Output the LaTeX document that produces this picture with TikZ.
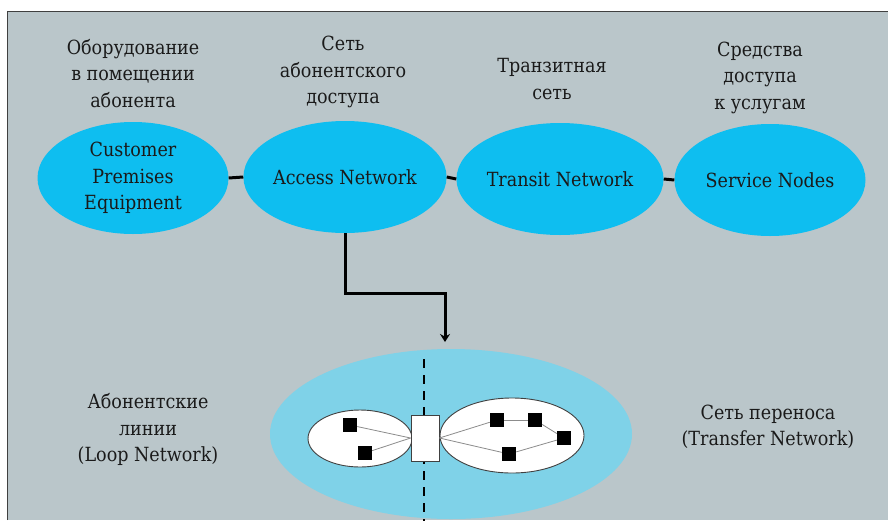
\documentclass[tikz,border=0pt]{standalone}
\usepackage{fontspec}
\setmainfont{DejaVu Serif Condensed}
\usetikzlibrary{shapes.geometric,arrows.meta}
\definecolor{panel}{RGB}{186,198,202}
\definecolor{netblue}{RGB}{14,190,240}
\definecolor{paleblue}{RGB}{127,210,232}
\definecolor{inkdark}{RGB}{26,26,26}
\tikzset{
  lbl/.style={font=\rmfamily\fontsize{19.5}{26.5}\selectfont, text=inkdark, align=center, inner sep=0pt},
  netnode/.style={ellipse, fill=netblue, minimum width=191pt, minimum height=112pt, inner sep=0pt,
    font=\rmfamily\fontsize{19.5}{26.5}\selectfont, text=inkdark, align=center},
  link/.style={line width=3pt, black},
  cloud/.style={ellipse, draw=black!75, line width=0.9pt, fill=white, inner sep=0pt},
  term/.style={rectangle, fill=black, minimum size=14pt, inner sep=0pt},
  wire/.style={draw=black!45, line width=0.8pt},
}
\begin{document}
\begin{tikzpicture}[x=1pt,y=-1pt]
\useasboundingbox (0,0) rectangle (888,520);
% frame
\fill[white] (0,0) rectangle (888,520);
\fill[panel] (7.5,11.5) rectangle (888,520);
\draw[black!75, line width=1.4pt] (7.5,520) -- (7.5,11.5) -- (888,11.5);

% upper row: headings
\node[lbl] (h1) at (133,73.5) {Оборудование\\в помещении\\абонента};
\node[lbl] (h2) at (343,72) {Сеть\\абонентского\\доступа};
\node[lbl] (h3) at (552,79) {Транзитная\\сеть};
\node[lbl] (h4) at (760,77.5) {Средства\\доступа\\к услугам};

% upper row: networks
\node[netnode] (cpe) at (133,178) {Customer\\Premises\\Equipment};
\node[netnode] (access) at (345,177) {Access Network};
\node[netnode] (transit) at (560,179) {Transit Network};
\node[netnode] (service) at (770,180) {Service Nodes};

\draw[link] (cpe.east) -- (access.west);
\draw[link] (access.east) -- (transit.west);
\draw[link] (transit.east) -- (service.west);

% lower part: access network detail
\node[ellipse, fill=paleblue, minimum width=362pt, minimum height=170pt, inner sep=0pt] (transfer) at (451,434) {};

\coordinate (elbow) at (445,293);
\coordinate (drop) at (445,342);
\draw[link, -{Stealth[length=8pt,width=10pt]}] (access.south) |- (elbow) -- (drop);

\coordinate (cuttop) at (424,359);
\coordinate (cutbot) at (424,522);
\draw[black, line width=2pt, dash pattern=on 9pt off 7pt] (cuttop) -- (cutbot);

\node[cloud, minimum width=104pt, minimum height=57pt] (loop) at (360,438.5) {};
\node[cloud, minimum width=144pt, minimum height=75pt] (core) at (512,435.5) {};
\node[rectangle, draw=black!75, line width=0.9pt, fill=white, minimum width=28pt, minimum height=46pt, inner sep=0pt] (hub) at (425,438) {};

\node[term] (l1) at (350,425) {};
\node[term] (l2) at (365,453) {};
\node[term] (r1) at (497,420) {};
\node[term] (r2) at (535,420) {};
\node[term] (r3) at (564,438) {};
\node[term] (r4) at (509,454) {};

\draw[wire] (l1) -- (hub.west);
\draw[wire] (l2) -- (hub.west);
\draw[wire] (r1) -- (hub.east);
\draw[wire] (r4) -- (hub.east);
\draw[wire] (r1) -- (r2);
\draw[wire] (r2) -- (r3);
\draw[wire] (r3) -- (r4);

% lower labels
\node[lbl] (loopname) at (148,429.5) {Абонентские\\линии\\(Loop Network)};
\node[lbl] (transfername) at (768,427) {Сеть переноса\\(Transfer Network)};
\end{tikzpicture}
\end{document}
